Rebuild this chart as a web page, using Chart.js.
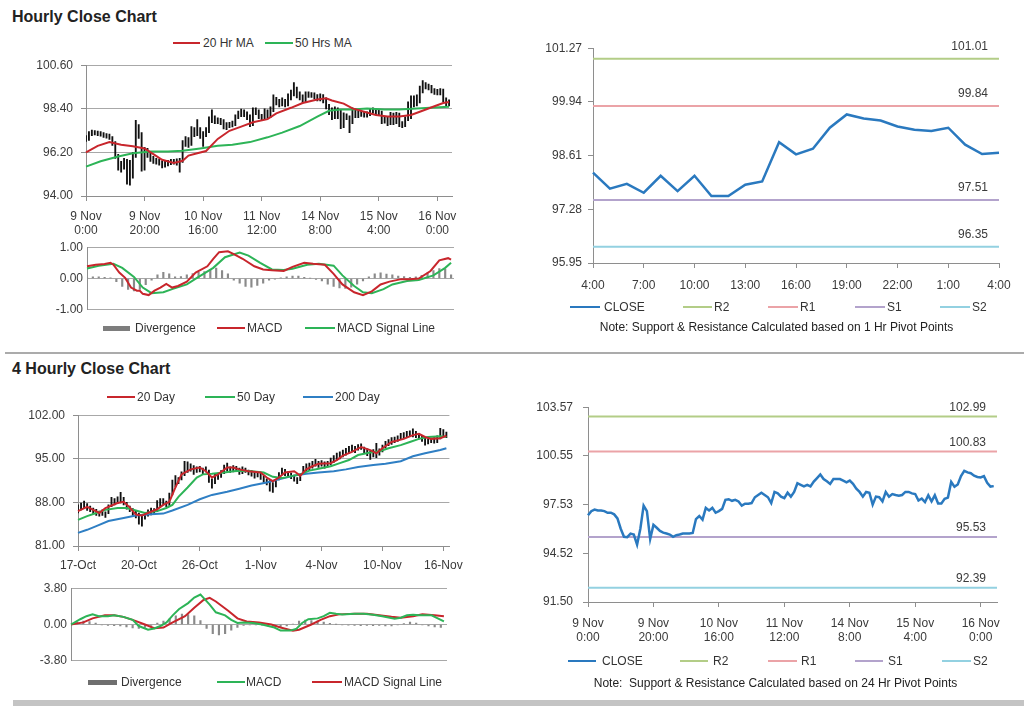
<!DOCTYPE html>
<html><head><meta charset="utf-8">
<script src="https://cdn.jsdelivr.net/npm/chart.js@4.4.1/dist/chart.umd.min.js"></script>
<style>
body{margin:0;background:#fff;width:1024px;height:706px;overflow:hidden;position:relative;font-family:"Liberation Sans",Arial,sans-serif;color:#333}
.title{position:absolute;font-weight:bold;font-size:16px;color:#222;line-height:20px;white-space:nowrap}
.lg{position:absolute;font-size:12px;line-height:14px;white-space:nowrap;color:#333}
.sw{position:absolute}
.note{position:absolute;font-size:12px;line-height:14px;white-space:nowrap;color:#222;text-align:center}
.sep{position:absolute}
.box{position:absolute}
</style></head><body>
<div class="title" style="left:12px;top:7px">Hourly Close Chart</div>
<div class="title" style="left:12px;top:359px">4 Hourly Close Chart</div>
<div class="sep" style="left:5px;top:352px;width:1019px;height:2px;background:#ababab"></div>
<div class="sep" style="left:13px;top:700px;width:1011px;height:6px;background:#c4c4c4"></div>
<script>
// ---------------- DATA ----------------
// Hourly bars, 9 Nov 0:00 .. 16 Nov 4:00 (index = hour number)
const hourTickIdx = [0, 20, 40, 60, 80, 100, 120];
const hourTickLabels = [['9 Nov','0:00'],['9 Nov','20:00'],['10 Nov','16:00'],['11 Nov','12:00'],['14 Nov','8:00'],['15 Nov','4:00'],['16 Nov','0:00']];
const hourPriceTicks = [94.00, 96.20, 98.40, 100.60];
const hourLow = [96.75,96.80,97.05,97.08,97.05,97.02,96.95,96.92,96.85,96.55,
 95.90,95.30,95.20,95.35,94.60,94.55,94.90,95.95,96.90,95.25,
 95.30,95.95,95.75,95.65,95.60,95.55,95.42,95.45,95.52,95.58,
 95.60,95.55,95.20,95.70,96.50,96.45,96.55,97.00,97.05,96.90,
 96.50,97.00,97.20,97.70,97.65,97.65,97.60,97.38,97.35,97.45,
 97.48,97.55,97.90,98.00,98.00,97.85,97.50,97.55,98.10,97.90,
 97.80,97.85,97.92,97.95,98.25,98.60,98.50,98.55,98.50,98.55,
 98.85,99.05,98.95,98.85,98.70,98.75,98.98,98.98,98.90,98.80,
 98.80,98.70,98.40,98.10,97.85,97.90,97.90,97.40,97.45,97.85,
 97.20,97.65,97.95,97.95,98.02,97.98,97.98,98.05,98.18,98.10,
 98.05,97.65,97.68,97.55,97.60,97.60,97.65,97.50,97.45,97.50,
 97.80,97.90,98.50,98.55,98.70,99.20,99.40,99.35,99.20,99.12,
 99.10,99.10,98.75,98.55,98.55];
const hourHigh = [97.05,97.25,97.33,97.30,97.28,97.25,97.20,97.15,97.12,97.00,
 96.75,96.10,95.75,95.90,95.85,95.80,96.20,97.82,97.60,97.20,
 96.45,96.40,96.20,96.00,95.90,95.85,95.78,95.75,95.80,95.85,
 95.85,95.88,95.90,96.80,97.00,96.95,97.50,97.45,97.85,97.45,
 97.25,97.45,98.00,98.35,98.05,97.95,97.92,97.85,97.70,97.72,
 97.78,98.10,98.28,98.38,98.35,98.25,98.10,98.45,98.45,98.35,
 98.12,98.40,98.35,98.50,99.10,98.98,98.88,98.95,98.88,99.15,
 99.35,99.72,99.50,99.25,99.10,99.25,99.25,99.22,99.20,99.12,
 99.15,99.12,98.95,98.62,98.45,98.50,98.45,98.35,98.20,98.15,
 98.05,98.45,98.40,98.30,98.28,98.22,98.25,98.42,98.45,98.40,
 98.35,98.28,98.02,98.00,98.22,98.18,98.22,98.18,97.75,98.00,
 98.75,99.05,99.05,99.10,99.55,99.82,99.72,99.65,99.58,99.42,
 99.38,99.42,99.40,98.95,98.85];
const hourClose = [96.87,97.13,97.23,97.17,97.17,97.13,97.03,97.03,96.93,96.68,
 96.04,95.54,95.52,95.74,95.68,95.05,96.04,97.47,97.13,95.40,
 96.28,96.10,95.90,95.80,95.74,95.68,95.54,95.64,95.68,95.74,
 95.74,95.74,95.78,96.64,96.83,96.60,97.33,97.17,97.33,97.03,
 97.13,97.27,97.83,97.87,97.77,97.83,97.73,97.47,97.59,97.59,
 97.63,97.99,98.13,98.27,98.13,97.99,97.63,98.32,98.23,98.03,
 97.93,98.27,98.03,98.32,98.86,98.76,98.66,98.76,98.66,98.96,
 99.18,99.40,99.12,98.98,98.82,99.12,99.12,99.12,99.02,98.92,
 99.02,98.82,98.52,98.32,98.03,98.32,98.27,97.53,98.03,97.99,
 97.73,98.32,98.03,98.19,98.13,98.09,98.13,98.32,98.32,98.23,
 98.19,97.79,97.91,97.69,98.11,97.73,98.11,97.61,97.61,97.89,
 97.97,98.94,98.64,98.78,99.30,99.63,99.53,99.48,99.33,99.25,
 99.22,99.30,98.88,98.65,98.68];
const ma20HrIdx = [0,4,8,12,16,20,23,26,30,33,35,38,41,45,49,53,57,62,65,70,74,79,82,84,88,91,95,99,103,107,111,114,119,122,124];
const ma20HrVal = [96.20,96.53,96.72,96.59,96.51,96.40,96.11,95.83,95.67,95.78,96.04,96.16,96.27,96.88,97.29,97.50,97.72,97.88,98.17,98.45,98.69,98.87,98.93,98.82,98.66,98.42,98.25,98.09,98.01,98.01,98.09,98.25,98.53,98.69,98.74];
const ma50HrIdx = [0,5,11,16,22,28,33,39,45,50,56,62,67,73,79,83,87,91,96,102,107,113,119,124];
const ma50HrVal = [95.48,95.75,95.99,96.16,96.24,96.24,96.28,96.40,96.53,96.59,96.72,96.96,97.20,97.53,98.01,98.30,98.37,98.37,98.42,98.37,98.37,98.42,98.46,98.50];
const macdHrTicks = [-1.00, 0.00, 1.00];
const macdHrIdx = [0,3,6,8,9,11,13,15,17,18,19,21,23,25,27,29,31,34,37,41,43,45,48,50,53,57,60,63,67,70,74,77,81,84,87,91,94,97,100,103,107,110,113,117,120,123,124];
const macdHrVal = [0.39,0.44,0.46,0.50,0.44,0.19,0.02,-0.29,-0.39,-0.39,-0.49,-0.53,-0.39,-0.29,-0.17,-0.29,-0.24,-0.10,0.19,0.39,0.63,0.84,0.87,0.78,0.63,0.39,0.29,0.26,0.24,0.37,0.50,0.47,0.44,0.15,-0.19,-0.44,-0.53,-0.41,-0.19,-0.10,-0.02,-0.02,0.00,0.24,0.58,0.65,0.60];
const sigHrIdx = [0,4,9,12,16,19,22,26,29,34,38,43,47,52,55,59,63,67,70,75,79,84,87,91,94,97,101,104,109,113,118,122,124];
const sigHrVal = [0.32,0.41,0.47,0.34,0.05,-0.29,-0.47,-0.44,-0.34,-0.19,0.05,0.34,0.68,0.83,0.73,0.50,0.29,0.27,0.31,0.44,0.47,0.41,0.10,-0.24,-0.44,-0.47,-0.34,-0.19,-0.08,-0.05,0.10,0.34,0.50];
const divHrStep = 2; // one bar every 2 hours
const divHrVal = [0.04,0.05,0.05,0.04,0.02,-0.10,-0.25,-0.35,-0.40,-0.35,
 -0.20,-0.05,0.12,0.20,0.15,0.05,0.06,0.12,0.16,0.20,
 0.22,0.28,0.33,0.25,0.15,-0.05,-0.15,-0.25,-0.28,-0.22,
 -0.15,-0.05,-0.02,0.02,0.05,0.08,0.08,0.04,0.01,-0.03,
 -0.08,-0.18,-0.25,-0.30,-0.32,-0.28,-0.18,-0.08,0.05,0.15,
 0.18,0.14,0.12,0.08,0.06,0.04,0.05,0.10,0.18,0.25,
 0.32,0.30,0.12];

// Last 24 hours (15 Nov 4:00 .. 16 Nov 4:00)
const dayTickIdx = [0,3,6,9,12,15,18,21,24];
const dayTickLabels = ['4:00','7:00','10:00','13:00','16:00','19:00','22:00','1:00','4:00'];
const dayPriceTicks = [95.95, 97.28, 98.61, 99.94, 101.27];
const dayClose = [98.19,97.79,97.91,97.69,98.11,97.73,98.11,97.61,97.61,97.89,97.97,98.94,98.64,98.78,99.30,99.63,99.53,99.48,99.33,99.25,99.22,99.30,98.88,98.65,98.68];
const dayR2 = 101.01, dayR1 = 99.84, dayS1 = 97.51, dayS2 = 96.35;

// 4-hourly bars, 17 Oct .. 16 Nov
const fourTickIdx = [0,20,40,60,80,100,120];
const fourTickLabels = ['17-Oct','20-Oct','26-Oct','1-Nov','4-Nov','10-Nov','16-Nov'];
const fourPriceTicks = [81.00, 88.00, 95.00, 102.00];
const fourLow = [86.3,86.8,87.0,86.7,86.5,86.2,85.9,85.8,85.9,85.6,
 86.2,87.3,87.6,87.8,87.9,87.6,86.9,86.5,85.9,85.5,
 84.5,84.2,85.3,85.8,86.0,86.1,86.5,87.3,87.6,87.3,
 87.5,89.2,90.5,91.0,91.6,92.3,92.8,93.0,92.5,92.8,
 92.9,92.6,92.9,91.2,90.3,91.0,91.7,92.0,92.6,93.0,
 92.8,92.9,93.0,92.5,92.6,92.8,92.4,92.2,91.9,92.1,
 91.7,91.2,90.8,89.8,89.6,90.5,91.6,92.4,92.3,92.0,
 91.8,91.4,91.0,91.5,92.6,93.0,93.2,93.5,93.8,93.6,
 93.8,93.5,93.7,94.0,94.4,94.8,95.0,95.3,95.6,95.9,
 96.2,96.0,96.4,96.5,96.0,95.5,94.9,95.3,95.2,95.6,
 96.1,96.7,97.1,97.3,97.6,97.8,98.2,98.3,98.5,98.6,
 98.5,98.4,98.2,97.8,97.2,97.4,97.6,97.5,97.6,98.2,
 98.6,98.4];
const fourHigh = [87.6,87.9,88.2,87.8,87.4,87.1,86.9,86.6,86.8,86.5,
 87.6,88.8,88.6,88.9,89.6,88.8,88.0,87.4,87.0,86.6,
 86.3,85.8,86.4,86.8,87.1,87.0,88.3,88.6,88.6,88.2,
 89.5,91.6,92.3,92.0,92.9,94.6,94.5,94.2,93.9,93.7,
 93.8,93.5,93.7,93.2,91.8,92.6,92.7,93.1,94.0,94.3,
 93.7,93.9,93.8,93.5,93.7,93.5,93.2,93.1,92.9,93.0,
 92.7,92.3,91.8,91.5,91.2,91.6,92.8,93.5,93.3,92.9,
 92.7,92.4,92.0,92.6,93.8,94.2,94.3,94.6,94.9,94.6,
 94.7,94.5,94.6,95.1,95.5,95.9,96.1,96.4,96.7,97.0,
 97.2,97.0,97.3,97.4,96.9,96.6,96.2,96.5,97.5,96.6,
 97.2,97.8,98.1,98.4,98.5,98.7,99.1,99.2,99.4,99.5,
 99.8,99.4,99.0,98.6,98.4,98.2,98.3,98.4,98.7,99.9,
 99.7,99.3];
const ma20DayIdx = [0,3,5,7,9,13,15,17,19,21,23,26,28,30,32,34,37,40,42,44,46,49,51,53,56,60,62,64,66,68,71,73,75,77,79,83,85,87,90,93,96,98,100,103,107,110,112,114,116,119,121];
const ma20DayVal = [86.6,87.3,86.8,86.3,87.1,87.9,88.1,87.2,86.05,85.9,86.3,86.9,87.6,88.1,90.4,92.5,93.3,93.6,93.0,92.0,92.5,93.6,93.6,93.3,93.0,92.8,92.0,91.4,92.0,92.8,93.0,92.3,93.3,93.8,94.2,94.3,94.8,95.5,96.1,96.9,96.4,95.9,96.7,97.7,98.2,98.8,99.0,98.5,98.2,98.3,98.7];
const ma50DayIdx = [0,3,6,9,13,16,19,22,26,29,31,33,36,39,41,44,48,51,54,57,61,64,67,71,73,76,79,83,86,89,92,96,99,102,106,109,112,115,119,121];
const ma50DayVal = [85.2,85.8,86.3,86.8,87.1,87.1,86.7,86.3,86.6,87.1,87.6,88.9,90.4,92.0,92.5,92.6,92.8,93.0,93.1,93.0,92.8,92.1,91.9,92.3,92.5,93.1,93.4,93.8,94.3,94.8,95.6,96.0,96.2,96.7,97.2,97.7,98.2,98.5,98.6,98.5];
const ma200DayIdx = [0,3,6,10,15,19,24,28,31,36,40,44,49,53,57,62,66,71,75,79,84,88,92,97,101,106,110,114,119,121];
const ma200DayVal = [83.1,83.6,84.2,85.0,85.5,85.9,86.1,86.2,86.7,87.6,88.5,89.2,89.7,90.2,90.7,91.2,91.7,92.3,92.6,92.8,93.0,93.3,93.7,94.0,94.2,94.6,95.4,95.9,96.4,96.7];
const macd4hTicks = [-3.80, 0.00, 3.80];
const macd4hIdx = [0,3,5,7,9,12,14,17,20,22,25,27,29,31,33,35,38,40,42,43,45,47,50,52,54,56,59,62,66,68,71,73,75,77,80,82,84,86,88,92,95,98,101,105,107,109,111,113,117,119,121];
const macd4hVal = [0,0.55,0.87,1.06,0.87,0.87,0.96,0.80,0.48,-0.16,-0.55,-0.42,-0.16,0.22,0.96,1.60,2.24,2.82,3.14,2.79,2.08,1.28,0.96,0.48,0.16,0.22,0.16,0.00,-0.32,-0.64,-0.64,-0.48,0.16,0.55,0.64,0.87,1.22,1.12,1.06,1.12,1.12,1.03,0.87,0.61,0.71,0.96,1.03,0.96,0.96,0.64,0.32];
const sig4hIdx = [0,4,7,11,14,17,20,24,27,30,33,37,40,43,45,47,51,54,57,61,65,68,72,74,78,81,84,87,92,96,100,104,107,111,114,118,121];
const sig4hVal = [0,0.22,0.64,0.96,0.96,0.80,0.48,0.00,-0.38,-0.32,0.22,0.87,1.76,2.57,2.79,2.41,1.44,0.64,0.32,0.22,0.00,-0.32,-0.64,-0.55,0.00,0.48,0.87,1.06,1.12,1.12,0.96,0.80,0.71,0.87,1.06,0.96,0.87];
const div4hStep = 2;
const div4hVal = [0.00,0.25,0.35,0.30,0.15,-0.05,-0.10,-0.12,-0.15,-0.25,
 -0.35,-0.40,-0.30,-0.10,0.15,0.35,0.60,0.90,1.10,1.05,
 0.90,0.40,-0.40,-0.95,-1.10,-0.95,-0.60,-0.30,-0.10,-0.05,
 -0.05,-0.08,-0.15,-0.20,-0.25,-0.15,0.05,0.35,0.45,0.40,
 0.35,0.25,0.12,0.02,-0.05,-0.08,-0.10,-0.12,-0.10,-0.12,
 -0.10,-0.15,-0.15,-0.05,0.10,0.25,0.15,-0.05,-0.15,-0.25,
 -0.30];

// 24 hr pivots for the hourly close line
const hrR2 = 102.99, hrR1 = 100.83, hrS1 = 95.53, hrS2 = 92.39;
const hrLinePriceTicks = [91.50, 94.52, 97.53, 100.55, 103.57];

// ---------------- STYLE ----------------
const FF = '"Liberation Sans", Arial, sans-serif';
const TXT = '#3a3a3a';
const AX = '#8e8e8e';
const GRID = '#a8a8a8';
const RED = '#c8262c', GREEN = '#2db457', BLUE = '#2f7fc4', CLOSEC = '#2a79bf', DIVC = '#8a8a8a';
const R2C = '#b3cd87', R1C = '#eba3a7', S1C = '#b3a3cc', S2C = '#93d1e1';

function place(left, top, w, h) {
  const d = document.createElement('div');
  d.className = 'box';
  d.style.cssText = `left:${left}px;top:${top}px;width:${w}px;height:${h}px`;
  const c = document.createElement('canvas');
  c.width = w; c.height = h;
  c.style.width = w + 'px'; c.style.height = h + 'px';
  d.appendChild(c);
  document.body.appendChild(d);
  return c;
}
function yAxis(ticksArr, width, tick, pad, grid) {
  return {
    type: 'linear', min: ticksArr[0], max: ticksArr[ticksArr.length - 1],
    afterBuildTicks: s => { s.ticks = ticksArr.map(v => ({ value: v })); },
    afterFit: s => { s.width = width; },
    ticks: { font: { family: FF, size: 12 }, color: TXT, padding: pad, callback: v => Number(v).toFixed(2) },
    grid: { display: true, drawOnChartArea: grid, drawTicks: tick > 0, tickLength: tick, color: GRID, tickColor: AX, lineWidth: 1 },
    border: { display: true, color: AX, width: 1 }
  };
}
function xAxis(max, tickIdx, labels, height, pad) {
  return {
    type: 'linear', min: 0, max: max, offset: false,
    afterBuildTicks: s => { s.ticks = tickIdx.map(v => ({ value: v })); },
    afterFit: s => { s.height = height; },
    ticks: { font: { family: FF, size: 12, lineHeight: 1.22 }, color: TXT, padding: pad, maxRotation: 0, minRotation: 0, autoSkip: false,
      callback: v => labels[tickIdx.indexOf(v)] },
    grid: { display: true, drawOnChartArea: false, drawTicks: true, tickLength: 5, color: AX, offset: false },
    border: { display: true, color: AX, width: 1 }
  };
}
function hiddenX(max) {
  return { type: 'linear', min: 0, max: max, offset: false, display: false, grid: { offset: false } };
}
function lineDS(idx, vals, color, w) {
  return { type: 'line', data: idx.map((x, k) => ({ x: x, y: vals[k] })), borderColor: color, borderWidth: w,
    pointRadius: 0, tension: 0, fill: false, clip: 2 };
}
function barsDS(lo, hi, color, thick) {
  return { type: 'bar', data: hi.map((h, i) => ({ x: i, y: [lo[i], h] })), backgroundColor: color, barThickness: thick, grouped: false };
}
function divDS(vals, step, color) {
  return { type: 'bar', data: vals.map((v, k) => ({ x: k * step, y: v })), backgroundColor: color, barThickness: 1.5, grouped: false };
}
function levelDS(v, max, color) {
  return { type: 'line', data: [{ x: 0, y: v }, { x: max, y: v }], borderColor: color, borderWidth: 2, pointRadius: 0, fill: false };
}
const pivotLabels = {
  id: 'pivotLabels',
  afterDatasetsDraw(chart, args, opts) {
    if (!opts || !opts.levels) return;
    const { ctx, chartArea, scales } = chart;
    ctx.save();
    ctx.font = '12px ' + FF; ctx.fillStyle = TXT; ctx.textAlign = 'right'; ctx.textBaseline = 'middle';
    opts.levels.forEach(v => ctx.fillText(v.toFixed(2), chartArea.right - opts.dx, scales.y.getPixelForValue(v) - opts.dy));
    ctx.restore();
  }
};
function build(canvas, datasets, x, y, padding, extra) {
  return new Chart(canvas, {
    type: 'bar',
    data: { datasets: datasets },
    options: {
      responsive: false, animation: false, events: [],
      layout: { padding: padding },
      scales: { x: x, y: y },
      plugins: Object.assign({ legend: { display: false }, tooltip: { enabled: false } }, extra || {})
    },
    plugins: [pivotLabels]
  });
}

// ---------------- CHARTS ----------------
// A: hourly candles + MAs
build(place(0, 50, 470, 200), [
  lineDS(ma20HrIdx, ma20HrVal, RED, 2),
  lineDS(ma50HrIdx, ma50HrVal, GREEN, 2),
  barsDS(hourLow, hourHigh, '#111', 1.2)
], xAxis(125, hourTickIdx, hourTickLabels, 54, 8), yAxis(hourPriceTicks, 86, 5, 8, true), { top: 11, right: 18, left: 0, bottom: 0 });

// A2: hourly MACD
build(place(0, 236, 470, 85), [
  lineDS(macdHrIdx, macdHrVal, RED, 2),
  lineDS(sigHrIdx, sigHrVal, GREEN, 2),
  divDS(divHrVal, divHrStep, DIVC)
], hiddenX(125), yAxis(macdHrTicks, 87, 0, 4, true), { top: 11, right: 16, left: 0, bottom: 5 });

// B: last 24 hours close with 1 hr pivots
build(place(520, 35, 504, 262), [
  lineDS(dayClose.map((v, i) => i), dayClose, CLOSEC, 2.5),
  levelDS(dayR2, 24, R2C), levelDS(dayR1, 24, R1C), levelDS(dayS1, 24, S1C), levelDS(dayS2, 24, S2C)
], xAxis(24, dayTickIdx, dayTickLabels, 34, 10), yAxis(dayPriceTicks, 73, 5, 6, false), { top: 12, right: 25, left: 0, bottom: 0 },
  { pivotLabels: { levels: [dayR2, dayR1, dayS1, dayS2], dx: 11, dy: 12 } });

// C: 4-hourly candles + MAs
build(place(0, 400, 470, 185), [
  lineDS(ma20DayIdx, ma20DayVal, RED, 2),
  lineDS(ma50DayIdx, ma50DayVal, GREEN, 2),
  lineDS(ma200DayIdx, ma200DayVal, BLUE, 2),
  barsDS(fourLow, fourHigh, '#111', 1.2)
], xAxis(122, fourTickIdx, fourTickLabels, 39, 7), yAxis(fourPriceTicks, 78, 5, 8, true), { top: 11, right: 20, left: 0, bottom: 0 });

// C2: 4-hourly MACD
build(place(0, 577, 470, 95), [
  lineDS(macd4hIdx, macd4hVal, GREEN, 2),
  lineDS(sig4hIdx, sig4hVal, RED, 2),
  divDS(div4hVal, div4hStep, DIVC)
], hiddenX(122), yAxis(macd4hTicks, 71, 0, 4, true), { top: 11, right: 23, left: 0, bottom: 5 });

// D: hourly close with 24 hr pivots
build(place(520, 390, 504, 260), [
  lineDS(hourClose.map((v, i) => i), hourClose, CLOSEC, 2.5),
  levelDS(hrR2, 125, R2C), levelDS(hrR1, 125, R1C), levelDS(hrS1, 125, S1C), levelDS(hrS2, 125, S2C)
], xAxis(125, hourTickIdx, hourTickLabels, 48, 9), yAxis(hrLinePriceTicks, 68, 5, 10, false), { top: 12, right: 27, left: 0, bottom: 0 },
  { pivotLabels: { levels: [hrR2, hrR1, hrS1, hrS2], dx: 11, dy: 9 } });

// ---------------- LEGENDS / NOTES ----------------
function legendItem(x0, x1, y, color, h, text, tx) {
  const s = document.createElement('div');
  s.className = 'sw';
  s.style.cssText = `left:${x0}px;top:${y - h / 2}px;width:${x1 - x0}px;height:${h}px;background:${color}`;
  document.body.appendChild(s);
  const t = document.createElement('div');
  t.className = 'lg';
  t.style.cssText = `left:${tx}px;top:${y - 7}px`;
  t.textContent = text;
  document.body.appendChild(t);
}
legendItem(173, 200, 43, RED, 2, '20 Hr MA', 203);
legendItem(265, 293, 43, GREEN, 2, '50 Hrs MA', 295);
legendItem(103, 130, 328, '#7d7d7d', 5, 'Divergence', 135);
legendItem(217, 245, 328, RED, 2, 'MACD', 247);
legendItem(305, 335, 328, GREEN, 2, 'MACD Signal Line', 337);
legendItem(570, 600, 307, CLOSEC, 2, 'CLOSE', 604);
legendItem(683, 712, 307, R2C, 1.5, 'R2', 714);
legendItem(768, 798, 307, R1C, 1.5, 'R1', 800);
legendItem(855, 885, 307, S1C, 1.5, 'S1', 887);
legendItem(940, 970, 307, S2C, 1.5, 'S2', 972);
legendItem(107, 135, 397, RED, 2, '20 Day', 137);
legendItem(205, 235, 397, GREEN, 2, '50 Day', 237);
legendItem(303, 333, 397, BLUE, 2, '200 Day', 335);
legendItem(88, 117, 682, '#6f6f6f', 5, 'Divergence', 121);
legendItem(217, 245, 682, GREEN, 2, 'MACD', 246);
legendItem(312, 342, 682, RED, 2, 'MACD Signal Line', 344);
legendItem(568, 596, 661, CLOSEC, 2, 'CLOSE', 602);
legendItem(680, 708, 661, R2C, 1.5, 'R2', 713);
legendItem(768, 797, 661, R1C, 1.5, 'R1', 801);
legendItem(855, 883, 661, S1C, 1.5, 'S1', 888);
legendItem(942, 971, 661, S2C, 1.5, 'S2', 973);
function note(cx, y, text) {
  const n = document.createElement('div');
  n.className = 'note';
  n.style.cssText = `left:${cx - 250}px;width:500px;top:${y - 7}px;white-space:pre`;
  n.textContent = text;
  document.body.appendChild(n);
}
note(776.5, 327, 'Note: Support & Resistance Calculated based on 1 Hr Pivot Points');
note(775.5, 683, 'Note:  Support & Resistance Calculated based on 24 Hr Pivot Points');
</script>
</body></html>
